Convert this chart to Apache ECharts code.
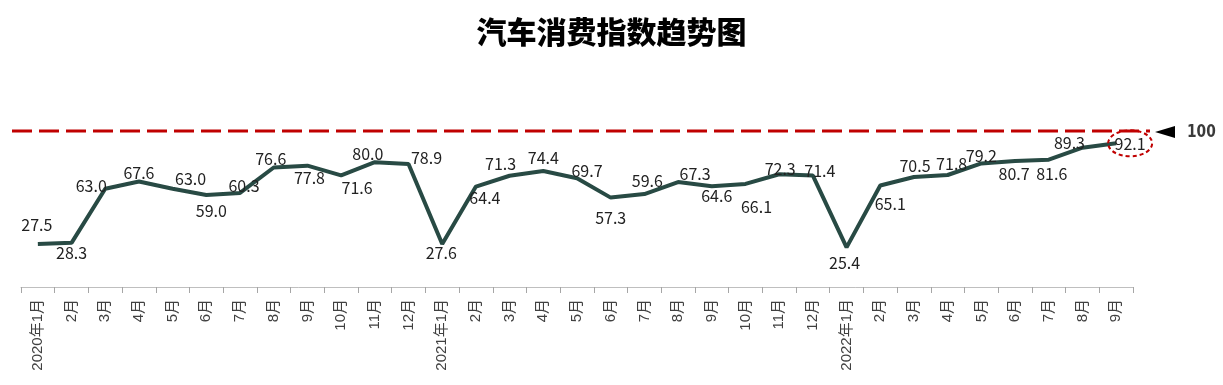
<!DOCTYPE html>
<html><head><meta charset="utf-8">
<script src="https://cdn.jsdelivr.net/npm/echarts@6/dist/echarts.min.js"></script>
<style>html,body{margin:0;padding:0;background:#fff}#c{width:1223px;height:385px}</style>
</head><body><div id="c"></div>
<script>
// ---- data ----
const titleText = '汽车消费指数趋势图';
const categories = [
  '2020年1月','2月','3月','4月','5月','6月','7月','8月','9月','10月','11月','12月',
  '2021年1月','2月','3月','4月','5月','6月','7月','8月','9月','10月','11月','12月',
  '2022年1月','2月','3月','4月','5月','6月','7月','8月','9月'
];
const values = [
  27.5, 28.3, 63.0, 67.6, 63.0, 59.0, 60.3, 76.6, 77.8, 71.6, 80.0, 78.9,
  27.6, 64.4, 71.3, 74.4, 69.7, 57.3, 59.6, 67.3, 64.6, 66.1, 72.3, 71.4,
  25.4, 65.1, 70.5, 71.8, 79.2, 80.7, 81.6, 89.3, 92.1
];
const refValue = 100;
const refLabel = '100';
const highlightIndex = 32;

// ---- label placement (style only): label centre offset from its point, px ----
const labelShift = [
  [-1,-19],[0,10],[-14,-3],[0,-9],[18,-10],[5,16],[4,-7],[-3,-9],[2,12],[16,13],[-7,-8],[18,-6],
  [-1,9],[9,11],[-9,-12],[0,-13],[10,-7],[0,20],[3,-13],[17,-8],[5,10],[11,23],[1,-5],[7,-5],
  [-2,16],[10,18],[1,-11],[4,-11],[0,-8],[-1,13],[3,14],[-13,-5],[14,1]
];

const chart = echarts.init(document.getElementById('c'));
const seriesData = values.map((v, i) => ({
  value: v,
  label: { position: [labelShift[i][0] + 0.5, labelShift[i][1] + 0.5] }
}));

chart.setOption({
  animation: false,
  title: {
    text: titleText, left: 'center', top: 12,
    textStyle: { fontSize: 30, fontWeight: 900, color: '#000', fontFamily: 'Noto Sans CJK SC' }
  },
  grid: { left: 21, right: 90, top: 131, bottom: 98 },
  xAxis: {
    type: 'category', data: categories, boundaryGap: true,
    axisLine: { lineStyle: { color: '#bfbfbf', width: 1 } },
    axisTick: { show: true, length: 6, lineStyle: { color: '#a6a6a6' } },
    axisLabel: { rotate: 90, margin: 12, fontSize: 15, color: '#404040', interval: 0,
      fontFamily: 'Liberation Sans, Noto Sans CJK SC' }
  },
  yAxis: { type: 'value', min: 0, max: 100, show: false, splitLine: { show: false } },
  series: [{
    type: 'line', data: seriesData, symbol: 'circle', symbolSize: 1, showSymbol: true,
    itemStyle: { color: 'rgba(0,0,0,0)' },
    lineStyle: { color: '#284a44', width: 4 },
    labelLayout: { hideOverlap: false },
    label: { show: true, fontSize: 16, color: '#222', fontFamily: 'Noto Sans CJK SC',
      align: 'center', verticalAlign: 'middle',
      formatter: p => Number(p.value).toFixed(1) }
  }]
});

const yRef = chart.convertToPixel({ yAxisIndex: 0 }, refValue);
const hp = chart.convertToPixel({ xAxisIndex: 0, yAxisIndex: 0 }, [highlightIndex, values[highlightIndex]]);
chart.setOption({
  graphic: [
    { type: 'line', shape: { x1: 12, y1: yRef, x2: 1150, y2: yRef },
      style: { stroke: '#c00000', lineWidth: 3, lineDash: [20, 7] }, z: 10 },
    { type: 'polygon', shape: { points: [[1155, yRef + 1], [1175, yRef - 5], [1175, yRef + 7]] },
      style: { fill: '#000' }, z: 10 },
    { type: 'text', x: 1187, y: yRef + 1, scaleX: 0.85,
      style: { text: refLabel, fontSize: 18, fontWeight: 'bold', fill: '#3a3a3a',
        verticalAlign: 'middle', align: 'left',
        fontFamily: 'DejaVu Sans Condensed' }, z: 10 },
    { type: 'ellipse', shape: { cx: hp[0] + 14, cy: hp[1] + 0, rx: 22, ry: 13 },
      style: { fill: 'none', stroke: '#c00000', lineWidth: 2, lineDash: [4, 3] }, z: 10 }
  ]
});
</script>
</body></html>
